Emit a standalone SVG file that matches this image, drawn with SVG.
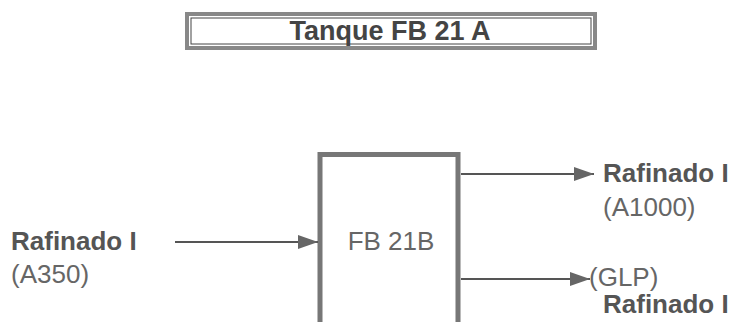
<svg xmlns="http://www.w3.org/2000/svg" width="735" height="322" viewBox="0 0 735 322">
  <defs>
    <marker id="arrow" viewBox="0 0 20 14" refX="20" refY="7" markerWidth="20" markerHeight="14" markerUnits="userSpaceOnUse" orient="auto">
      <path d="M0,0 L20,7 L0,14 Z" fill="#666"/>
    </marker>
    <style>
      .bold { font-family: "Liberation Sans", Arial, sans-serif; font-weight: bold; font-size: 26px; fill: #555; }
      .reg { font-family: "Liberation Sans", Arial, sans-serif; font-size: 26px; fill: #666; }
      .box { fill: #fff; stroke: #777; stroke-width: 5; }
      .conn { stroke: #555; stroke-width: 2; fill: none; marker-end: url(#arrow); }
    </style>
  </defs>
  <rect width="735" height="322" fill="#fff"/>
  <g id="tanque">
    <rect x="187" y="14" width="408" height="34" fill="#fff" stroke="#888" stroke-width="4"/>
    <rect x="191" y="18" width="400" height="26" fill="none" stroke="#444" stroke-width="1"/>
    <text class="bold" x="390" y="40" text-anchor="middle" style="fill:#444;font-size:27px">Tanque FB 21 A</text>
  </g>
  <g id="fb21b">
    <path class="box" d="M320,325 L320,154.5 L458,154.5 L458,325"/>
    <text class="reg" x="391" y="250" text-anchor="middle">FB 21B</text>
  </g>
  <g id="input">
    <text class="bold" x="11" y="250">Rafinado I</text>
    <text class="reg" x="11" y="283">(A350)</text>
  </g>
  <g id="out1">
    <text class="bold" x="603" y="182">Rafinado I</text>
    <text class="reg" x="603" y="216">(A1000)</text>
  </g>
  <g id="out2">
    <text class="reg" x="589" y="286">(GLP)</text>
    <text class="bold" x="603" y="313">Rafinado I</text>
  </g>
  <g id="connectors">
    <line class="conn" x1="175" y1="242" x2="318" y2="242"/>
    <line class="conn" x1="461" y1="174" x2="594" y2="174"/>
    <line class="conn" x1="461" y1="279" x2="590" y2="279"/>
  </g>
</svg>
